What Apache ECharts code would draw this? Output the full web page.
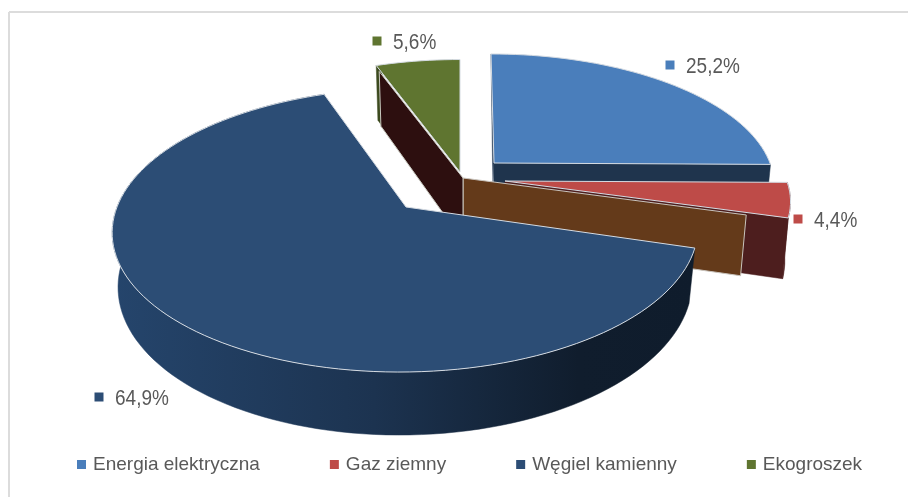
<!DOCTYPE html>
<html><head><meta charset="utf-8">
<style>html,body{margin:0;padding:0;background:#fff}#c{width:908px;height:497px}</style>
<script src="https://cdn.jsdelivr.net/npm/echarts@6/dist/echarts.min.js"></script>
</head><body><div id="c"></div>
<script>
const categories = ['Energia elektryczna', 'Gaz ziemny', 'Węgiel kamienny', 'Ekogroszek'];
const values = [25.2, 4.4, 64.9, 5.6];
const valueLabels = ['25,2%', '4,4%', '64,9%', '5,6%'];
const sliceColors = ['#4a7ebb', '#be4b48', '#2c4d75', '#5f7530'];

// projection of the tilted pie
const A = 289, B = 138.3, K = 0.162, SHRINK = 0.02;
const CENTER = [463, 178];
// per-slice explosion (apex), scale and extrusion
const layout = [
  {apex: [494, 163], sx: .955, sy: .916, depth: 55, skew: .0275, label: [670, 65]},
  {apex: [505, 181], sx: .975, sy: .90, depth: 58, skew: 0, label: [798, 219]},
  {apex: [406, 207], sx: 1, sy: 1, depth: 52.8, skew: -.04, label: [99, 397]},
  {apex: [460, 172], sx: .97, sy: .945, depth: 63, skew: 0, label: [377, 41]}
];
const total = values.reduce((a, b) => a + b, 0);
const starts = []; let acc = 0;
values.forEach(v => { starts.push(acc / total * 360); acc += v; });
const range = i => [starts[i], starts[i] + values[i] / total * 360];

function pt(apex, L, deg, r, z) {
  const t = deg * Math.PI / 180, u = Math.sin(t) * r, v = -Math.cos(t) * r, w = 1 - K * v;
  const dx = A * L.sx * u / w, dy = B * L.sy * v / w;
  return [apex[0] + dx * (1 - (z ? SHRINK : 0)) + L.skew * dy, apex[1] + dy + (z ? L.depth / w : 0)];
}
function arc(apex, L, a0, a1, r, z) {
  const out = [], n = Math.max(2, Math.ceil(Math.abs(a1 - a0) / 2));
  for (let i = 0; i <= n; i++) out.push(pt(apex, L, a0 + (a1 - a0) * i / n, r, z));
  return out;
}
const poly = (points, fill, stroke) => ({type: 'polygon', shape: {points},
  style: {fill, stroke: stroke || fill, lineWidth: stroke ? 1 : .5, lineJoin: 'round'}});
const topFace = (i, a, L) => {
  const [a0, a1] = range(i);
  return poly([a].concat(arc(a, L, a0, a1, 1, false)), sliceColors[i], '#d5dbe2');
};
const radialWall = (apex, L, deg, r0, fill, stroke) =>
  poly([pt(apex, L, deg, r0, false), pt(apex, L, deg, 1, false), pt(apex, L, deg, 1, true), pt(apex, L, deg, r0, true)], fill, stroke);
const outerWall = (apex, L, a0, a1, fill, stroke) =>
  poly(arc(apex, L, a0, a1, 1, false).concat(arc(apex, L, a1, a0, 1, true)), fill, stroke);
const hgrad = stops => ({type: 'linear', x: 0, y: 0, x2: 1, y2: 0,
  colorStops: stops.map(s => ({offset: s[0], color: s[1]}))});

function sliceShapes(i) {
  const L = layout[i], a = L.apex, [a0, a1] = range(i), c = [];
  if (i === 0) {
    c.push(radialWall(a, L, a1, 0, '#1f344d'));
    const tip = pt(a, L, a0, 1, false);
    c.push(poly([tip, a, [a[0] - 1, a[1] + 20], [a[0] - 1.5, a[1]]], '#2a3f58'));
    c.push(topFace(i, a, L));
  } else if (i === 1) {
    c.push(radialWall(a, L, a1, 0, '#4d1e1e'));
    c.push(outerWall(a, L, a0, a1, '#4d1e1e'));
    c.push(topFace(i, a, L));
    c.push(radialWall(CENTER, L, a1, 0, '#643a1a', '#c9c4bd'));
  } else if (i === 2) {
    c.push(outerWall(a, L, a0, a1, hgrad([[0, '#25456c'], [.45, '#1c3350'], [.8, '#101d2d'], [1, '#0f1c2c']])));
    c.push(topFace(i, a, L));
  } else {
    c.push(radialWall(a, L, a0, .92, '#3c4a1e'));
    c.push(radialWall(CENTER, L, a0, 0, '#2d0f0f', '#c9c9c0'));
    c.push(topFace(i, a, L));
  }
  // value label with its square marker
  const [mx, my] = L.label;
  c.push({type: 'rect', shape: {x: mx - 4.5, y: my - 4.5, width: 9, height: 9}, style: {fill: sliceColors[i]}, z2: 20});
  c.push({type: 'text', x: mx + 16, y: my + 2, scaleY: 1.15, z2: 20, style: {text: valueLabels[i], fill: '#595959',
    font: '19px "Liberation Sans"', textAlign: 'left', textVerticalAlign: 'middle'}});
  return c;
}

const drawOrder = [0, 1, 3, 2];
const series = drawOrder.map(i => ({
  type: 'custom', name: categories[i], coordinateSystem: 'none', silent: true,
  itemStyle: {color: sliceColors[i]},
  data: [{name: categories[i], value: values[i]}],
  renderItem: () => ({type: 'group', children: sliceShapes(i)})
}));

const chart = echarts.init(document.getElementById('c'), null, {renderer: 'canvas'});
chart.setOption({
  animation: false, backgroundColor: '#fff',
  legend: {data: categories, left: 72, top: 450, icon: 'rect', itemWidth: 9, itemHeight: 9, itemGap: 70,
    selectedMode: false, textStyle: {color: '#595959', fontSize: 19, fontFamily: 'Liberation Sans', padding: [0, 0, 0, 2]}},
  graphic: [
    {type: 'line', shape: {x1: 9, y1: 12, x2: 908, y2: 12}, style: {stroke: '#dcdcdc', lineWidth: 2}},
    {type: 'line', shape: {x1: 9, y1: 12, x2: 9, y2: 497}, style: {stroke: '#dcdcdc', lineWidth: 2}}
  ],
  series
});
</script></body></html>
